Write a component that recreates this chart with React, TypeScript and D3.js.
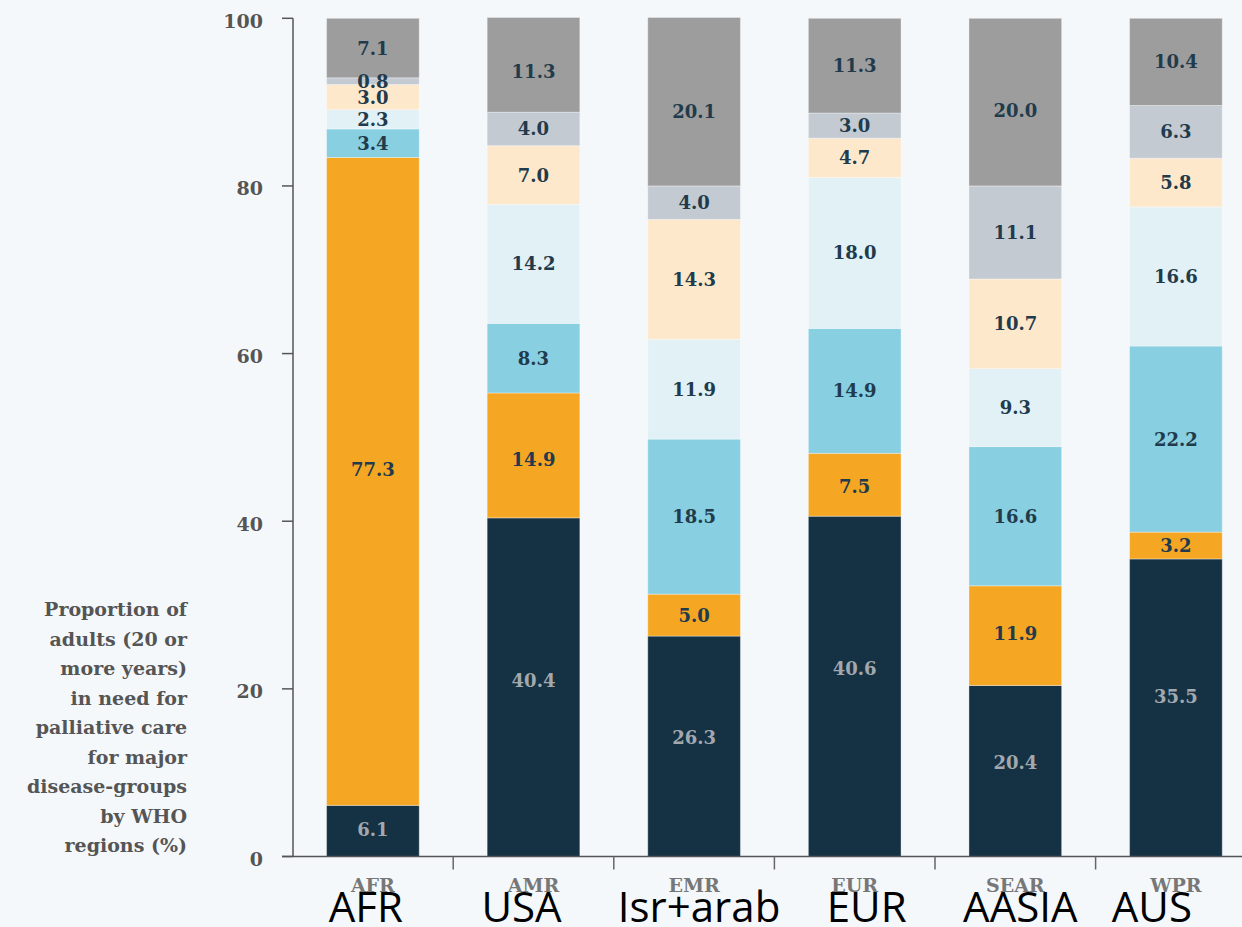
import React from "react";
import * as d3 from "d3";

// WHO regions and the relabelled names written under each bar
const regions = ["AFR", "AMR", "EMR", "EUR", "SEAR", "WPR"];
const regionNames = ["AFR", "USA", "Isr+arab", "EUR", "AASIA", "AUS"];
const regionNameShift = [-7, -12, 5, 12, 5, -24];

// Disease-group shares (%) per region, stacked bottom to top
const group1 = [6.1, 40.4, 26.3, 40.6, 20.4, 35.5];
const group2 = [77.3, 14.9, 5.0, 7.5, 11.9, 3.2];
const group3 = [3.4, 8.3, 18.5, 14.9, 16.6, 22.2];
const group4 = [2.3, 14.2, 11.9, 18.0, 9.3, 16.6];
const group5 = [3.0, 7.0, 14.3, 4.7, 10.7, 5.8];
const group6 = [0.8, 4.0, 4.0, 3.0, 11.1, 6.3];
const group7 = [7.1, 11.3, 20.1, 11.3, 20.0, 10.4];

const yTicks = [0, 20, 40, 60, 80, 100];
const titleLines = [
  "Proportion of",
  "adults (20 or",
  "more years)",
  "in need for",
  "palliative care",
  "for major",
  "disease-groups",
  "by WHO",
  "regions (%)",
];

const groups = [group1, group2, group3, group4, group5, group6, group7];
const groupColors = ["#153244", "#f5a623", "#87cfe1", "#e1f1f6", "#fee8cb", "#c3cad2", "#9d9d9d"];
const labelColors = ["#a2a8ad", "#213b4c", "#213b4c", "#213b4c", "#213b4c", "#213b4c", "#213b4c"];

// Vertical nudges (px) of the value labels inside their segments
const labelNudge = [
  [-1, -7, -9, -18, -8, -11],
  [-12, 4, 0, 2, -2, 0],
  [0, 0, 0, 0, 0, 0],
  [0, 0, 0, 0, 0, 0],
  [0, 0, 0, 0, 0, 0],
  [0, 0, 0, 0, 0, 0],
  [0, 7, 10, 0, 8, 0],
];

const W = 1242;
const H = 927;
const SERIF = "'DejaVu Serif', serif";

export default function App() {
  const x = d3
    .scaleBand<string>()
    .domain(regions)
    .range([292.6, 292.6 + 160.6 * regions.length])
    .paddingInner(0.423)
    .paddingOuter(0.2115);
  const y = d3.scaleLinear().domain([0, 100]).range([856.5, 18.3]);

  const rows = regions.map((r, i) => {
    const row: Record<string, number | string> = { region: r };
    groups.forEach((g, k) => (row["g" + k] = g[i]));
    return row;
  });
  const keys = groups.map((_, k) => "g" + k);
  const stacked = d3.stack<Record<string, number | string>>().keys(keys)(rows as any);

  const step = x.step();
  const x0 = x.range()[0];
  const boundaries = regions.slice(1).map((_, i) => x0 + step * (i + 1));

  return (
    <svg
      width={W}
      height={H}
      style={{ position: "absolute", left: 0, top: 0, background: "#f4f8fb" }}
    >
      <rect x={0} y={0} width={W} height={H} fill="#f4f8fb" />

      {/* stacked bars */}
      {stacked.map((layer, k) => (
        <g key={k}>
          {layer.map((d, i) => {
            const yTop = y(d[1]);
            const yBot = y(d[0]);
            const bx = x(regions[i])!;
            return (
              <rect
                key={i}
                x={bx}
                y={yTop}
                width={x.bandwidth()}
                height={yBot - yTop}
                fill={groupColors[k]}
                stroke="#ffffff"
                strokeOpacity={0.35}
                strokeWidth={1}
              />
            );
          })}
        </g>
      ))}

      {/* segment value labels */}
      {stacked.map((layer, k) => (
        <g key={"l" + k}>
          {layer.map((d, i) => (
            <text
              key={i}
              x={x(regions[i])! + x.bandwidth() / 2}
              y={(y(d[0]) + y(d[1])) / 2 + labelNudge[k][i]}
              dy="0.36em"
              textAnchor="middle"
              fontFamily={SERIF}
              fontWeight="bold"
              fontSize={18}
              fill={labelColors[k]}
            >
              {groups[k][i].toFixed(1)}
            </text>
          ))}
        </g>
      ))}

      {/* y axis */}
      <line x1={293} x2={293} y1={y(100)} y2={y(0)} stroke="#555" strokeWidth={1.5} />
      {yTicks.map((t) => (
        <g key={t}>
          <line x1={282} x2={293} y1={y(t)} y2={y(t)} stroke="#555" strokeWidth={1.5} />
          <text
            x={263}
            y={y(t)}
            dy="0.5em"
            textAnchor="end"
            fontFamily={SERIF}
            fontWeight="bold"
            fontSize={19}
            fill="#555"
          >
            {t}
          </text>
        </g>
      ))}

      {/* x axis */}
      <line x1={282} x2={W} y1={y(0)} y2={y(0)} stroke="#555" strokeWidth={1.5} />
      {boundaries.map((b, i) => (
        <line key={i} x1={b} x2={b} y1={y(0)} y2={y(0) + 13} stroke="#666" strokeWidth={1.5} />
      ))}
      {regions.map((r) => (
        <text
          key={r}
          x={x(r)! + x.bandwidth() / 2}
          y={892}
          textAnchor="middle"
          fontFamily={SERIF}
          fontWeight="bold"
          fontSize={19}
          fill="#777"
        >
          {r}
        </text>
      ))}

      {/* y axis title */}
      <text
        textAnchor="end"
        fontFamily={SERIF}
        fontWeight="bold"
        fontSize={19}
        fill="#555"
      >
        {titleLines.map((line, i) => (
          <tspan key={i} x={187} y={616 + i * 29.5}>
            {line}
          </tspan>
        ))}
      </text>

      {/* renamed region labels */}
      {regions.map((r, i) => (
        <text
          key={"n" + r}
          x={x(r)! + x.bandwidth() / 2 + regionNameShift[i]}
          y={922}
          textAnchor="middle"
          fontFamily="'Open Sans', sans-serif"
          fontSize={42}
          fill="#000"
        >
          {regionNames[i]}
        </text>
      ))}
    </svg>
  );
}
